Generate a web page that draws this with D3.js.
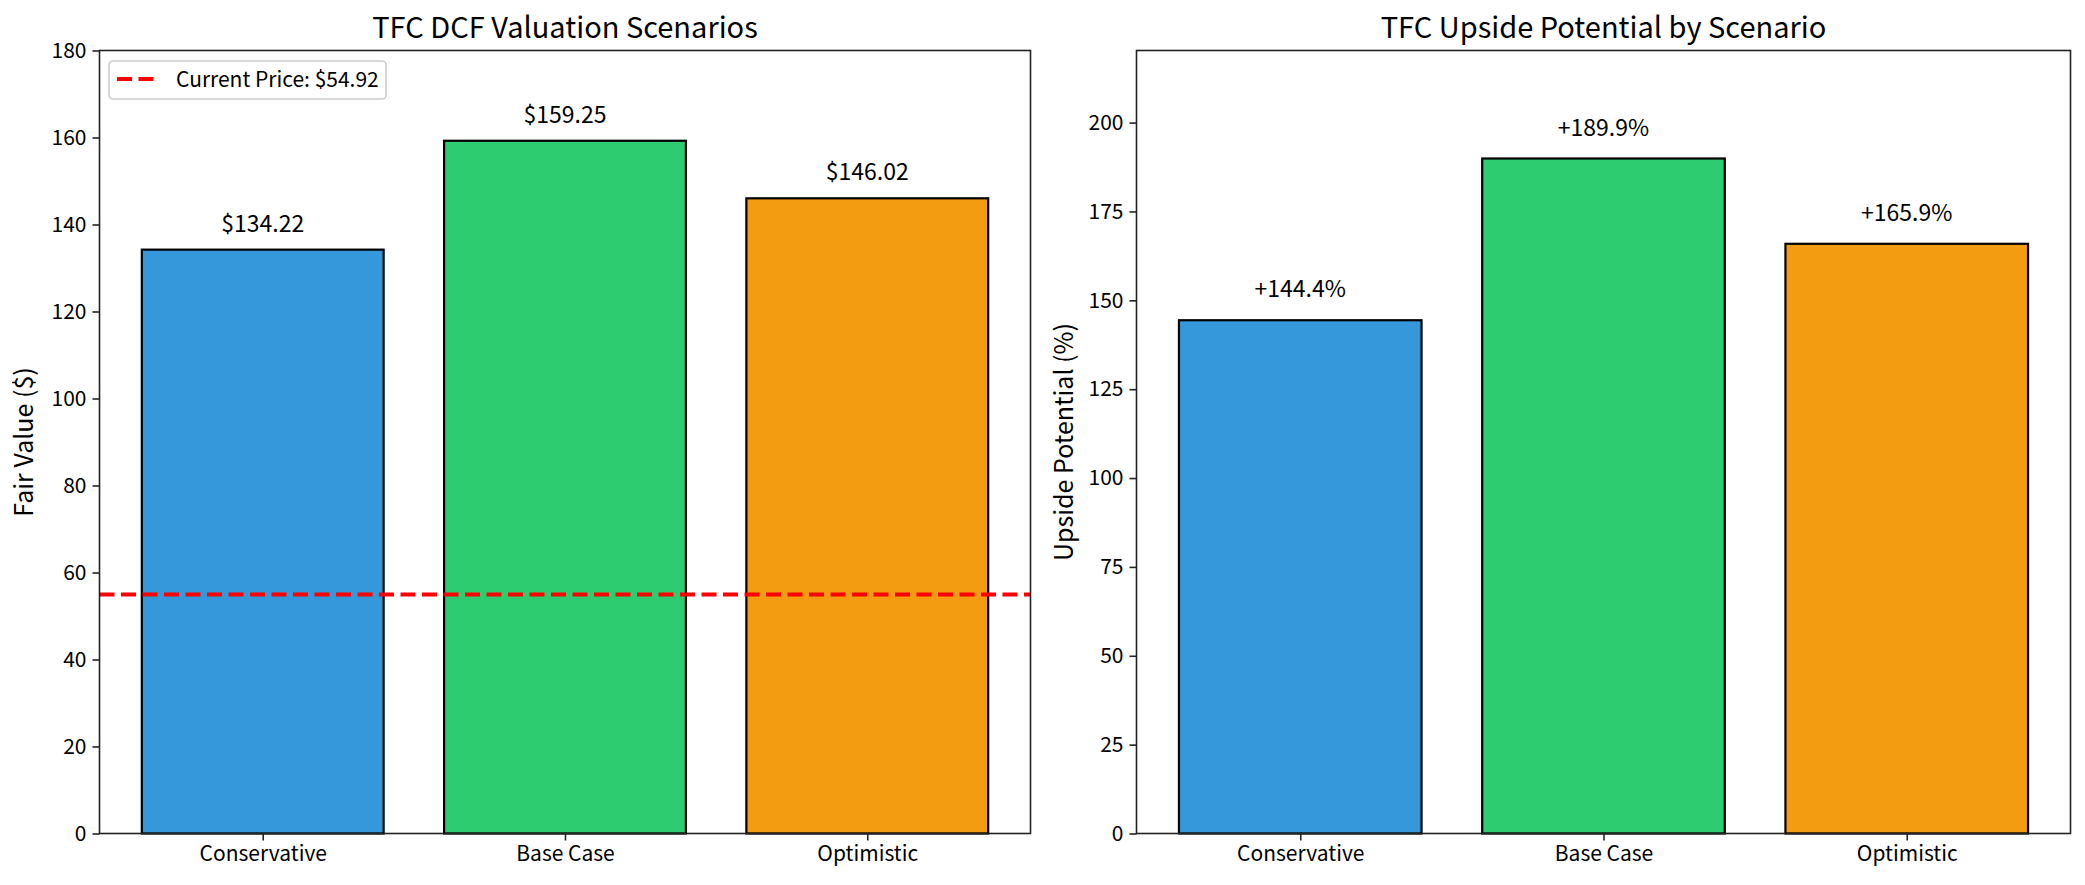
<!DOCTYPE html>
<html>
<head>
<meta charset="utf-8">
<script src="https://cdn.jsdelivr.net/npm/d3@7"></script>
<style>
body { margin: 0; background: #fff; }
text { font-family: "Noto Sans CJK SC", "Noto Sans", sans-serif; fill: #000; }
</style>
</head>
<body>
<div id="chart"></div>
<script>
// data
var scenarios = ["Conservative", "Base Case", "Optimistic"];
var fairValues = [134.22, 159.25, 146.02];
var upside = [144.4, 189.9, 165.9];
var currentPrice = 54.92;
var barColors = ["#3498db", "#2ecc71", "#f39c12"];
var leftTicks = [0, 20, 40, 60, 80, 100, 120, 140, 160, 180];
var rightTicks = [0, 25, 50, 75, 100, 125, 150, 175, 200];

var W = 2085, H = 885;
var svg = d3.select("#chart").append("svg")
    .attr("width", W).attr("height", H);

function drawPanel(p) {
    var x = d3.scaleLinear().domain([-0.54, 2.54]).range([p.x0, p.x1]);
    var y = d3.scaleLinear().domain([0, p.ymax]).range([p.y1, p.y0]);
    var g = svg.append("g");

    // bars
    g.selectAll("rect.bar")
        .data(p.values)
        .enter()
        .append("rect")
        .attr("class", "bar")
        .attr("x", function(d, i) { return x(i - 0.4); })
        .attr("width", function(d, i) { return x(i + 0.4) - x(i - 0.4); })
        .attr("y", function(d) { return y(d); })
        .attr("height", function(d) { return y(0) - y(d); })
        .style("fill", function(d, i) { return barColors[i]; })
        .style("stroke", "#000")
        .style("stroke-width", 2.2);

    // value labels
    g.selectAll("text.val")
        .data(p.values)
        .enter()
        .append("text")
        .attr("class", "val")
        .attr("x", function(d, i) { return x(i); })
        .attr("y", function(d) { return y(d + p.off) - 5; })
        .attr("text-anchor", "middle")
        .attr("font-size", 23)
        .text(p.fmt);

    if (p.hline != null) {
        g.append("line")
            .attr("x1", p.x0).attr("x2", p.x1)
            .attr("y1", y(p.hline)).attr("y2", y(p.hline))
            .style("stroke", "#ff0000")
            .style("stroke-width", 4)
            .style("stroke-dasharray", "15,6.5");
    }

    // axes
    var yAxis = d3.axisLeft(y).tickValues(p.ticks).tickSize(7).tickPadding(6);
    var ya = g.append("g").attr("transform", "translate(" + p.x0 + ",0)").call(yAxis);
    var xAxis = d3.axisBottom(x).tickValues([0, 1, 2])
        .tickFormat(function(d) { return scenarios[d]; }).tickSize(7).tickPadding(6);
    var xa = g.append("g").attr("transform", "translate(0," + p.y1 + ")").call(xAxis);
    [ya, xa].forEach(function(a) {
        a.select(".domain").remove();
        a.selectAll("line").style("stroke", "#222").style("stroke-width", 1.6);
        a.selectAll("text").attr("font-size", 21).style("fill", "#000")
            .style("font-family", "'Noto Sans CJK SC', 'Noto Sans', sans-serif");
    });

    g.append("rect")
        .attr("x", p.x0).attr("y", p.y0)
        .attr("width", p.x1 - p.x0).attr("height", p.y1 - p.y0)
        .style("fill", "none").style("stroke", "#222").style("stroke-width", 1.6);

    g.append("text")
        .attr("x", (p.x0 + p.x1) / 2).attr("y", 38)
        .attr("text-anchor", "middle")
        .attr("font-size", 29)
        .text(p.title);

    g.append("text")
        .attr("transform", "translate(" + p.ylx + "," + ((p.y0 + p.y1) / 2) + ") rotate(-90)")
        .attr("text-anchor", "middle")
        .attr("dy", "0.35em")
        .attr("font-size", 25)
        .text(p.ylabel);
    return g;
}

drawPanel({
    x0: 99.5, x1: 1030.5, y0: 50.5, y1: 833.5, ymax: 180,
    values: fairValues, ticks: leftTicks, off: 3,
    fmt: function(d) { return "$" + d.toFixed(2); },
    hline: currentPrice,
    title: "TFC DCF Valuation Scenarios", ylabel: "Fair Value ($)", ylx: 24
});

drawPanel({
    x0: 1136.5, x1: 2070.5, y0: 50.5, y1: 833.5, ymax: 189.9 * 1.16,
    values: upside, ticks: rightTicks, off: 5,
    fmt: function(d) { return "+" + d.toFixed(1) + "%"; },
    hline: null,
    title: "TFC Upside Potential by Scenario", ylabel: "Upside Potential (%)", ylx: 1064
});

// legend
var lg = svg.append("g");
lg.append("rect")
    .attr("x", 109).attr("y", 61).attr("width", 277).attr("height", 38)
    .attr("rx", 4)
    .style("fill", "#fff").style("fill-opacity", 0.8)
    .style("stroke", "#ccc").style("stroke-width", 1.6);
lg.append("line")
    .attr("x1", 117).attr("x2", 155).attr("y1", 79).attr("y2", 79)
    .style("stroke", "#ff0000").style("stroke-width", 4)
    .style("stroke-dasharray", "15,6.5");
lg.append("text")
    .attr("x", 176).attr("y", 87)
    .attr("font-size", 21)
    .text("Current Price: $" + currentPrice.toFixed(2));
</script>
</body>
</html>
